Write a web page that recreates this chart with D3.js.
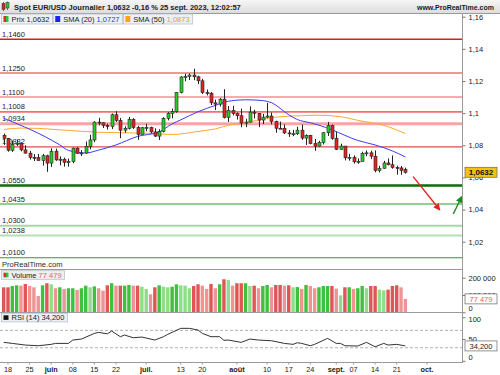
<!DOCTYPE html>
<html><head><meta charset="utf-8">
<script src="https://cdn.jsdelivr.net/npm/d3@7"></script>
<style>
html,body{margin:0;padding:0;background:#fff;}
svg{display:block;font-family:"Liberation Sans",Arial,sans-serif;}
</style></head><body>
<svg id="chart" width="500" height="375"></svg>
<script>
// ---------------- data ----------------
const firstDay = "2023-05-17";
const titleText = "Spot EUR/USD Journalier 1,0632 -0,16 % 25 sept. 2023, 12:02:57";
const siteText = "www.ProRealTime.com";
const watermark = "ProRealTime.com";

const open  = [1.0862,1.0843,1.0769,1.0806,1.0813,1.0771,1.0751,1.0725,1.0723,1.0705,1.0735,1.0689,1.0763,1.0709,1.0713,1.0694,1.0698,1.0782,1.0750,1.0752,1.0792,1.0833,1.0944,1.0940,1.0923,1.0918,1.0990,1.0955,1.0894,1.0905,1.0960,1.0911,1.0867,1.0909,1.0911,1.0883,1.0857,1.0886,1.0968,1.0999,1.1010,1.1128,1.1225,1.1229,1.1237,1.1226,1.1201,1.1129,1.1124,1.1064,1.1056,1.1087,1.0972,1.1016,1.0998,1.0984,1.0938,1.0944,1.1006,1.0999,1.0957,1.0975,1.0982,1.0948,1.0906,1.0906,1.0877,1.0871,1.0872,1.0894,1.0845,1.0862,1.0810,1.0795,1.0817,1.0878,1.0922,1.0843,1.0775,1.0795,1.0722,1.0725,1.0697,1.0700,1.0748,1.0753,1.0732,1.0643,1.0657,1.0690,1.0679,1.0662,1.0659,1.0649];
const high  = [1.0873,1.0846,1.0829,1.0833,1.0818,1.0800,1.0765,1.0745,1.0746,1.0746,1.0741,1.0781,1.0779,1.0731,1.0723,1.0717,1.0786,1.0788,1.0770,1.0823,1.0865,1.0949,1.0971,1.0942,1.0935,1.0998,1.1012,1.0970,1.0918,1.0976,1.0969,1.0921,1.0915,1.0934,1.0916,1.0906,1.0900,1.0975,1.1006,1.1028,1.1130,1.1230,1.1245,1.1247,1.1276,1.1232,1.1213,1.1147,1.1131,1.1084,1.1094,1.1149,1.1044,1.1046,1.1004,1.1028,1.0965,1.1042,1.1021,1.1000,1.0996,1.1064,1.1004,1.0953,1.0947,1.0930,1.0895,1.0896,1.0915,1.0929,1.0868,1.0865,1.0840,1.0828,1.0882,1.0945,1.0929,1.0882,1.0810,1.0795,1.0747,1.0737,1.0718,1.0760,1.0768,1.0766,1.0768,1.0672,1.0703,1.0718,1.0737,1.0673,1.0671,1.0661];
const low   = [1.0802,1.0760,1.0759,1.0796,1.0762,1.0748,1.0711,1.0702,1.0704,1.0674,1.0635,1.0665,1.0703,1.0675,1.0667,1.0667,1.0688,1.0746,1.0733,1.0748,1.0775,1.0819,1.0924,1.0907,1.0898,1.0901,1.0945,1.0844,1.0878,1.0899,1.0901,1.0834,1.0867,1.0887,1.0875,1.0852,1.0833,1.0880,1.0955,1.0968,1.1002,1.1123,1.1198,1.1206,1.1205,1.1180,1.1119,1.1110,1.1050,1.1019,1.1041,1.0967,1.0945,1.0986,1.0960,1.0912,1.0913,1.0942,1.0967,1.0913,1.0932,1.0969,1.0930,1.0878,1.0903,1.0870,1.0852,1.0857,1.0864,1.0834,1.0802,1.0806,1.0765,1.0791,1.0805,1.0858,1.0834,1.0770,1.0772,1.0706,1.0704,1.0686,1.0685,1.0699,1.0732,1.0714,1.0632,1.0631,1.0654,1.0675,1.0654,1.0617,1.0616,1.0624];
const close = [1.0843,1.0769,1.0805,1.0813,1.0771,1.0751,1.0725,1.0722,1.0705,1.0735,1.0689,1.0763,1.0709,1.0713,1.0694,1.0698,1.0782,1.0750,1.0752,1.0792,1.0833,1.0944,1.0940,1.0923,1.0918,1.0990,1.0955,1.0894,1.0905,1.0960,1.0911,1.0867,1.0909,1.0911,1.0883,1.0857,1.0886,1.0968,1.0999,1.1010,1.1128,1.1225,1.1229,1.1237,1.1226,1.1201,1.1129,1.1124,1.1064,1.1056,1.1087,1.0972,1.1016,1.0998,1.0984,1.0938,1.0944,1.1006,1.0999,1.0957,1.0975,1.0982,1.0948,1.0906,1.0905,1.0877,1.0871,1.0872,1.0894,1.0845,1.0862,1.0810,1.0795,1.0817,1.0878,1.0922,1.0843,1.0775,1.0795,1.0722,1.0725,1.0697,1.0700,1.0748,1.0753,1.0732,1.0643,1.0657,1.0690,1.0679,1.0662,1.0659,1.0644,1.0632];
const volume = [144500,144500,152000,156000,154000,164000,152000,144500,94000,156000,168000,162000,139000,144500,135000,139000,139000,129000,139000,154000,144500,150000,139000,125000,156000,168000,154000,154000,154000,158000,154000,154000,148000,135000,104000,144500,156000,148000,144500,148000,162000,156000,154000,139000,152000,162000,154000,135000,164000,139000,162000,191000,187000,154000,168000,168000,168000,152000,154000,139000,152000,158000,144500,158000,158000,154000,156000,144500,146000,135000,158000,152000,139000,144500,152000,152000,152000,137000,98000,144500,144500,135000,139000,152000,139000,152000,152000,131000,127000,131000,152000,156000,144500,77479];

const sma20Dates  = ["2023-05-17","2023-06-05","2023-06-07","2023-06-13","2023-06-16","2023-06-22","2023-06-29","2023-07-06","2023-07-11","2023-07-13","2023-07-19","2023-07-25","2023-07-28","2023-08-03","2023-08-09","2023-08-11","2023-08-17","2023-08-21","2023-08-24","2023-08-28","2023-08-31","2023-09-08","2023-09-14","2023-09-20","2023-09-25"];
const sma20Values = [1.0968,1.0802,1.0768,1.0752,1.0770,1.0802,1.0855,1.0883,1.0933,1.0958,1.1009,1.1048,1.1074,1.1083,1.1078,1.1065,1.0990,1.0960,1.0940,1.0925,1.0896,1.0830,1.0802,1.0765,1.0727];
const sma50Dates  = ["2023-05-17","2023-05-23","2023-05-29","2023-06-05","2023-06-16","2023-07-03","2023-07-11","2023-07-19","2023-07-25","2023-07-28","2023-08-04","2023-08-14","2023-08-22","2023-08-28","2023-09-04","2023-09-08","2023-09-18","2023-09-25"];
const sma50Values = [1.0898,1.0907,1.0905,1.0896,1.0881,1.0875,1.0867,1.0886,1.0902,1.0924,1.0946,1.0975,1.0984,1.0987,1.0978,1.0955,1.0924,1.0873];

const rsiDates  = ["2023-05-17","2023-05-19","2023-05-24","2023-05-29","2023-06-01","2023-06-02","2023-06-07","2023-06-08","2023-06-12","2023-06-15","2023-06-16","2023-06-20","2023-06-21","2023-06-23","2023-06-26","2023-06-28","2023-06-30","2023-07-05","2023-07-07","2023-07-10","2023-07-13","2023-07-17","2023-07-19","2023-07-20","2023-07-24","2023-07-26","2023-07-27","2023-07-28","2023-08-02","2023-08-04","2023-08-08","2023-08-11","2023-08-16","2023-08-18","2023-08-21","2023-08-22","2023-08-24","2023-08-25","2023-08-30","2023-09-01","2023-09-04","2023-09-05","2023-09-08","2023-09-12","2023-09-14","2023-09-18","2023-09-19","2023-09-21","2023-09-25"];
const rsiValues = [42.4,40,36.2,34.6,37.8,40,40,47.7,50,63,65.4,62,68.4,55.4,59.2,53,54.6,47.7,55.4,60.8,74.6,74.6,70.7,63,55.4,55.4,47,47.7,42.4,50,47.7,46.1,40,37.8,41.5,40,34.6,37.8,51.6,40,40,34.6,34,42.4,32.3,40,36.2,37.8,34.2];

const levelValues = [1.1460,1.1250,1.1100,1.1008,1.0934,1.0790,1.0550,1.0435,1.0300,1.0238,1.0100];
const levelLabels = ["1,1460","1,1250","1,1100","1,1008","1,0934","1,0832","1,0550","1,0435","1,0300","1,0238","1,0100"];
const levelKinds  = ["r1","r2","r3","r4","r5","r6","g1","g2","g3","g4","g2"];

const priceTicks = [1.02,1.04,1.06,1.08,1.10,1.12,1.14,1.16];
const volumeTicks = [0,100000,200000];
const rsiTicks = [0,50,100];
const xTickDates  = ["2023-05-18","2023-05-25","2023-06-01","2023-06-08","2023-06-15","2023-06-22","2023-07-03","2023-07-13","2023-07-20","2023-08-01","2023-08-10","2023-08-17","2023-08-24","2023-09-01","2023-09-07","2023-09-14","2023-09-21","2023-10-02"];
const xTickLabels = ["18","25","juin","08","15","22","juil.","13","20","août","10","17","24","sept.","07","14","21","oct."];
const monthLabels = ["juin","juil.","août","sept.","oct."];

const lastPrice = 1.0632, sma20Last = 1.0727, sma50Last = 1.0873, lastVolume = 77479, lastRsi = 34.200;
// projection arrows: [day index, price]
const arrows = [
  {kind:"down", from:[94.8,1.0605], to:[100.9,1.0400]},
  {kind:"up",   from:[104.1,1.0372], to:[106.0,1.0478]}
];

// ---------------- helpers ----------------
const loc = d3.formatLocale({decimal:",", thousands:"\u00a0", grouping:[3], currency:["",""]});
const fPriceTick = v => loc.format(".2~f")(v);
const fVol = loc.format(",d");
const fRsi = loc.format(".3f");
const f4 = loc.format(".4f");

const parse = d3.timeParse("%Y-%m-%d");
const key = d3.timeFormat("%Y-%m-%d");
const calendar = d3.timeDay.range(parse(firstDay), parse("2023-10-20")).filter(d => d.getDay() !== 0 && d.getDay() !== 6);
const dayIndex = new Map(calendar.map((d,i)=>[key(d), i]));
const idx = s => dayIndex.get(s);

const candles = close.map((c,i)=>({k:i, o:open[i], h:high[i], l:low[i], c:c, v:volume[i]}));

// ---------------- layout ----------------
const W = 500, H = 375;
const plotR = 463;
const mainTop = 13.5, mainBot = 269.5, volBot = 312.5, rsiBot = 362.5;
const step = 4.319, firstX = 3.68;
const x = d3.scaleLinear().domain([-firstX/step, (plotR-firstX)/step]).range([0, plotR]);
const y = d3.scaleLinear().domain([1.02, 1.16]).range([241.7, 16.7]);
const yV = d3.scaleLinear().domain([0, 200000]).range([312.3, 277.7]);
const yR = d3.scaleLinear().domain([0, 100]).range([360.8, 317.3]);

const svg = d3.select("#chart");
const defs = svg.append("defs");
const grad = defs.append("linearGradient").attr("id","hdr").attr("x1",0).attr("y1",0).attr("x2",0).attr("y2",1);
grad.append("stop").attr("offset","0").attr("stop-color","#f6f6f6");
grad.append("stop").attr("offset","1").attr("stop-color","#dcdcdc");
defs.append("clipPath").attr("id","clipMain").append("rect").attr("x",0).attr("y",mainTop).attr("width",plotR).attr("height",mainBot-mainTop);
defs.append("clipPath").attr("id","clipVol").append("rect").attr("x",0).attr("y",mainBot).attr("width",plotR).attr("height",volBot-mainBot);
defs.append("clipPath").attr("id","clipRsi").append("rect").attr("x",0).attr("y",volBot).attr("width",plotR).attr("height",rsiBot-volBot);
[["arRed","#e82020"],["arGreen","#1f8a1f"]].forEach(([id,col])=>{
  defs.append("marker").attr("id",id).attr("viewBox","0 0 10 10").attr("refX",8).attr("refY",5)
    .attr("markerWidth",5).attr("markerHeight",5).attr("orient","auto")
    .append("path").attr("d","M0,0 L10,5 L0,10 z").attr("fill",col);
});

svg.append("rect").attr("width",W).attr("height",H).attr("fill","#fff");

// ---------------- header ----------------
svg.append("rect").attr("x",0).attr("y",0).attr("width",W).attr("height",mainTop).attr("fill","url(#hdr)");
svg.append("line").attr("x1",0).attr("x2",W).attr("y1",mainTop).attr("y2",mainTop).attr("stroke","#9a9a9a");
const ic = svg.append("g");
ic.append("line").attr("x1",3.5).attr("x2",3.5).attr("y1",2).attr("y2",11).attr("stroke","#333").attr("stroke-width",0.7);
ic.append("rect").attr("x",2).attr("y",3.5).attr("width",3).attr("height",6).attr("fill","#dd2222").attr("stroke","#333").attr("stroke-width",0.5);
ic.append("line").attr("x1",7.5).attr("x2",7.5).attr("y1",1.5).attr("y2",10).attr("stroke","#333").attr("stroke-width",0.7);
ic.append("rect").attr("x",6).attr("y",2.5).attr("width",3).attr("height",5.5).attr("fill","#2cc52c").attr("stroke","#333").attr("stroke-width",0.5);
svg.append("text").attr("x",14).attr("y",9.6).attr("font-size",7.5).attr("font-weight","bold").attr("fill","#1a1a1a").text(titleText);
svg.append("text").attr("x",494).attr("y",9.6).attr("text-anchor","end").attr("font-size",7).attr("font-weight","bold").attr("fill","#1a1a1a").text(siteText);

// ---------------- main panel ----------------
const gMain = svg.append("g").attr("clip-path","url(#clipMain)");
const levelStyle = {
  r1:{c:"#d81e1e",w:1.5}, r2:{c:"#e23030",w:1.1}, r3:{c:"#ee5a5a",w:1.1}, r4:{c:"#f07070",w:1.6},
  r5:{c:"#f4a6a6",w:3}, r6:{c:"#e84a4a",w:1.1},
  g1:{c:"#0a6e0a",w:2.6}, g2:{c:"#2e9a2e",w:1.1}, g3:{c:"#a6d8a6",w:2}, g4:{c:"#b4e0b4",w:2}
};
levelValues.forEach((v,i)=>{
  const s = levelStyle[levelKinds[i]];
  gMain.append("line").attr("x1",0).attr("x2",plotR).attr("y1",y(v)).attr("y2",y(v))
    .attr("stroke",s.c).attr("stroke-width",s.w);
});
levelValues.forEach((v,i)=>{
  gMain.append("text").attr("x",2).attr("y",y(v)-2.4).attr("font-size",7.5).attr("fill","#222").text(levelLabels[i]);
});

const line = d3.line().x(d=>x(d[0])).y(d=>y(d[1])).curve(d3.curveMonotoneX);
gMain.append("path").attr("d",line(sma50Dates.map((d,i)=>[idx(d),sma50Values[i]])))
  .attr("fill","none").attr("stroke","#ffa733").attr("stroke-width",1);
gMain.append("path").attr("d",line(sma20Dates.map((d,i)=>[idx(d),sma20Values[i]])))
  .attr("fill","none").attr("stroke","#3d3df2").attr("stroke-width",1);

const bodyW = 3;
const gC = gMain.append("g");
gC.selectAll("line.wick").data(candles).join("line").attr("class","wick")
  .attr("x1",d=>Math.round(x(d.k))+0.5).attr("x2",d=>Math.round(x(d.k))+0.5)
  .attr("y1",d=>y(d.h)).attr("y2",d=>y(d.l)).attr("stroke","#222").attr("stroke-width",1);
gC.selectAll("rect.body").data(candles).join("rect").attr("class","body")
  .attr("x",d=>Math.round(x(d.k))+0.5-bodyW/2).attr("width",bodyW)
  .attr("y",d=>y(Math.max(d.o,d.c))).attr("height",d=>Math.max(1,Math.abs(y(d.o)-y(d.c))))
  .attr("fill",d=>d.c>=d.o?"#2ccb2c":"#e02424").attr("stroke","#222").attr("stroke-width",0.6);

svg.append("text").attr("x",2).attr("y",266.8).attr("font-size",7.6).attr("fill","#2a2a2a").text(watermark);

// arrows
arrows.forEach(a=>{
  const col = a.kind==="down" ? "#e82020" : "#1f8a1f";
  svg.append("line").attr("x1",x(a.from[0])).attr("y1",y(a.from[1])).attr("x2",x(a.to[0])).attr("y2",y(a.to[1]))
    .attr("stroke",col).attr("stroke-width",1.4).attr("marker-end",a.kind==="down"?"url(#arRed)":"url(#arGreen)");
});

// ---------------- volume panel ----------------
const gV = svg.append("g").attr("clip-path","url(#clipVol)");
gV.selectAll("rect").data(candles).join("rect")
  .attr("x",d=>x(d.k)-1.7).attr("width",3.4)
  .attr("y",d=>yV(d.v)).attr("height",d=>yV(0)-yV(d.v))
  .attr("fill",(d,i)=>{
    const up = d.c>=d.o;
    const light = i>0 && d.v < candles[i-1].v;
    return up ? (light?"#8fdc8a":"#3fc03f") : (light?"#ee9494":"#e05656");
  });

// ---------------- RSI panel ----------------
const gR = svg.append("g").attr("clip-path","url(#clipRsi)");
[70,30].forEach(v=>gR.append("line").attr("x1",0).attr("x2",plotR).attr("y1",yR(v)).attr("y2",yR(v))
  .attr("stroke","#9a9a9a").attr("stroke-width",0.8).attr("stroke-dasharray","3,2"));
gR.append("path").attr("d",d3.line().x(d=>x(d[0])).y(d=>yR(d[1]))(rsiDates.map((d,i)=>[idx(d),rsiValues[i]])))
  .attr("fill","none").attr("stroke","#333").attr("stroke-width",1);

// ---------------- frames ----------------
[mainBot, volBot, rsiBot].forEach(yy=>svg.append("line").attr("x1",0).attr("x2",plotR).attr("y1",yy).attr("y2",yy).attr("stroke","#9a9a9a"));
svg.append("line").attr("x1",plotR-0.5).attr("x2",plotR-0.5).attr("y1",mainTop).attr("y2",rsiBot).attr("stroke","#9a9a9a");

// ---------------- right axes ----------------
function styleAxis(g){
  g.select(".domain").remove();
  g.selectAll(".tick line").attr("stroke","#777");
  g.selectAll(".tick text").attr("font-size",7.5).attr("fill","#1a1a1a").attr("font-family","Liberation Sans, Arial, sans-serif");
}
svg.append("g").attr("transform",`translate(${plotR-0.5},0)`)
  .call(d3.axisRight(y).tickValues(priceTicks).tickSize(3).tickPadding(3).tickFormat(fPriceTick)).call(styleAxis);
const gva = svg.append("g").attr("transform",`translate(${plotR-0.5},0)`)
  .call(d3.axisRight(yV).tickValues(volumeTicks).tickSize(3).tickPadding(3).tickFormat(fVol)).call(styleAxis);
gva.selectAll(".tick text").filter(d=>d===0).attr("dy","-0.3em");
const gra = svg.append("g").attr("transform",`translate(${plotR-0.5},0)`)
  .call(d3.axisRight(yR).tickValues(rsiTicks).tickSize(3).tickPadding(3).tickFormat(d3.format("d"))).call(styleAxis);
gra.selectAll(".tick text").filter(d=>d===0).attr("dy","-0.15em");
gra.selectAll(".tick text").filter(d=>d===100).attr("dy","0.5em");

// value tags
function tag(yc, txt, fill, color, bold){
  const g = svg.append("g");
  g.append("rect").attr("x",465).attr("y",yc-5).attr("width",32).attr("height",10)
    .attr("fill",fill).attr("stroke","#666").attr("stroke-width",0.7);
  g.append("text").attr("x",481).attr("y",yc+2.7).attr("text-anchor","middle").attr("font-size",bold?8:7.5)
    .attr("font-weight",bold?"bold":"normal").attr("fill",color).text(txt);
}
tag(y(lastPrice), f4(lastPrice), "#f4c20d", "#111", true);
tag(yV(lastVolume), fVol(lastVolume), "#fff", "#e46464", false);
tag(yR(lastRsi), fRsi(lastRsi), "#fff", "#222", false);

// ---------------- x axis ----------------
const gx = svg.append("g");
xTickDates.forEach((d,i)=>{
  const xx = x(idx(d));
  gx.append("line").attr("x1",xx).attr("x2",xx).attr("y1",rsiBot).attr("y2",rsiBot+2).attr("stroke","#999");
  gx.append("text").attr("x",xx).attr("y",371.8).attr("text-anchor","middle").attr("font-size",7.3)
    .attr("font-weight",monthLabels.includes(xTickLabels[i])?"bold":"normal").attr("fill","#1a1a1a").text(xTickLabels[i]);
});

// ---------------- legends ----------------
function legend(x0, y0, h, parts, icon){
  const g = svg.append("g");
  const r = g.append("rect").attr("x",x0).attr("y",y0).attr("height",h).attr("fill","#edf0f4").attr("stroke","#b9c1ca").attr("stroke-width",0.8);
  if(icon.length===2){
    g.append("rect").attr("x",x0+2).attr("y",y0+2).attr("width",2.5).attr("height",h-4).attr("fill",icon[0]);
    g.append("rect").attr("x",x0+4.5).attr("y",y0+2).attr("width",2.5).attr("height",h-4).attr("fill",icon[1]);
  } else {
    g.append("rect").attr("x",x0+2).attr("y",y0+2).attr("width",5).attr("height",h-4).attr("fill",icon[0]);
  }
  const t = g.append("text").attr("x",x0+10).attr("y",y0+h/2+2.7).attr("font-size",7.5);
  parts.forEach(p=>t.append("tspan").attr("fill",p[1]).text(p[0]));
  const w = t.node().getComputedTextLength();
  r.attr("width", w + 13);
  return x0 + w + 13;
}
let lx = 1.5;
lx = legend(lx, 14, 10, [["Prix "+f4(lastPrice),"#222"]], ["#dd2a2a","#2cc52c"]) + 0.8;
lx = legend(lx, 14, 10, [["SMA (20) ","#222"],[f4(sma20Last),"#3535ee"]], ["#2020ff"]) + 0.8;
legend(lx, 14, 10, [["SMA (50) ","#222"],[f4(sma50Last),"#f59a20"]], ["#ffa020"]);
legend(1.5, 270.7, 8.6, [["Volume ","#222"],[fVol(lastVolume),"#e46464"]], ["#dd2a2a","#2cc52c"]);
legend(1.5, 313.3, 8.6, [["RSI (14) "+fRsi(lastRsi),"#222"]], ["#111"]);
</script>
</body></html>
